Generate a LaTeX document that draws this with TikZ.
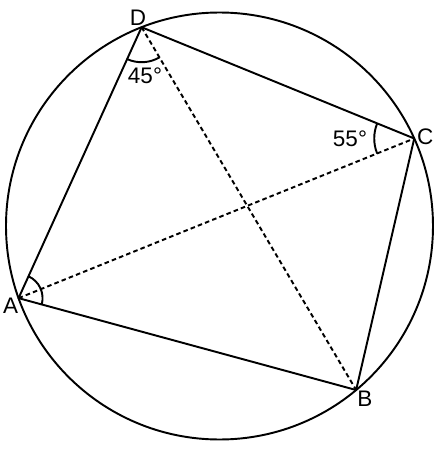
\documentclass[tikz,border=0pt]{standalone}
\usepackage{fontspec}
\setmainfont{Liberation Sans}
\usepackage{tikz}
\usetikzlibrary{calc,angles,quotes}

\begin{document}
\begin{tikzpicture}
            \useasboundingbox(-4.39,-4.48)rectangle(4.55,4.52);
            \tikzset{every node/.style={font=\fontsize{12.8}{15}\selectfont}}
            % Vertices on the circle
            \coordinate(O)at(0,0);
            \coordinate(A)at(199.75:4.27);
            \coordinate(D)at(111.4:4.27);
            \coordinate(C)at(24.2:4.27);
            \coordinate(B)at(-50.2:4.27);
            % Circle
            \draw[black,line width=1.1pt](O)circle(4.27);
            % Quadrilateral
            \draw[black,line width=1.1pt,line join=round](A)--(D)--(C)--(B)--cycle;
            % Diagonals
            \draw[black,line width=1.1pt,dash pattern=on 2.6pt off 1.8pt](A)--(C);
            \draw[black,line width=1.1pt,dash pattern=on 2.6pt off 1.8pt](D)--(B);
            % Vertex labels
            \node[anchor=north east,inner sep=0pt](lA)at(A){A};
            \node[anchor=south,inner sep=1pt,xshift=-2pt](lD)at(D){D};
            \node[anchor=west,inner sep=1.5pt,yshift=1pt](lC)at(C){C};
            \node[anchor=north west,inner sep=0.5pt](lB)at(B){B};
            % Angles
            \pic[draw,line width=1.1pt,angle radius=4.8mm]{angle=B--A--D};
            \pic[draw,line width=1.1pt,angle radius=7mm]{angle=A--D--B};
            \pic[draw,line width=1.1pt,angle radius=8mm]{angle=D--C--A};
            \node(aD)at(-1.49,3.0){45°};
            \node(aC)at(2.61,1.74){55°};
        \end{tikzpicture}
\end{document}
